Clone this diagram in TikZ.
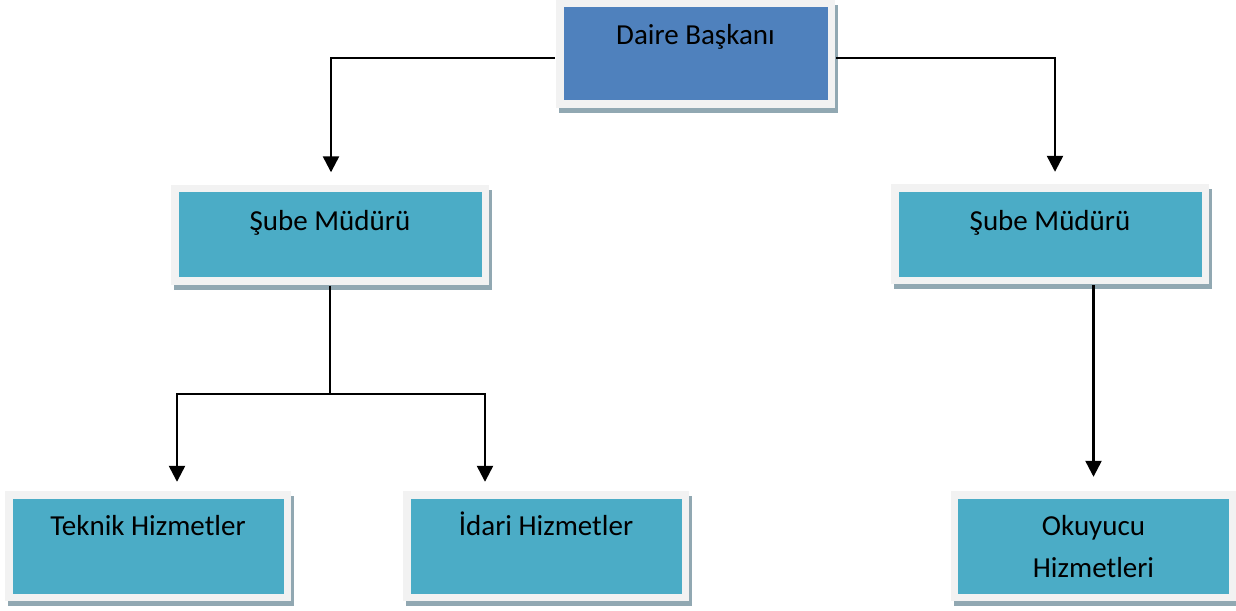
\documentclass[tikz,border=0pt]{standalone}
\usepackage{fontspec}
\setmainfont{Carlito}
\usetikzlibrary{arrows.meta,shadows}

\definecolor{headblue}{RGB}{79,129,189}
\definecolor{unitteal}{RGB}{75,172,198}
\definecolor{framegray}{RGB}{242,242,242}
\definecolor{shadowgray}{RGB}{145,168,178}

\begin{document}
\begin{tikzpicture}[x=0.5pt,y=-0.5pt,>={Triangle[width=8pt,length=8pt]},line width=1.2pt,
  unit box/.style={rectangle,fill=framegray,inner sep=0pt,minimum width=159pt,minimum height=50pt,
    text height=10pt,align=center,font=\fontsize{14.5pt}{21pt}\selectfont,
    drop shadow={shadow xshift=1.5pt,shadow yshift=-2.5pt,fill=shadowgray,opacity=1},
    path picture={\fill[#1] ([shift={(3.75pt,3.75pt)}]path picture bounding box.south west)
      rectangle ([shift={(-3.75pt,-3.75pt)}]path picture bounding box.north east);}}]

  \useasboundingbox (0,0) rectangle (1236,610);

  \node[unit box=headblue,minimum width=139.5pt,minimum height=54pt,text depth=19pt] (head) at (695.5,54) {Daire Başkanı};
  \node[unit box=unitteal,text depth=14pt] (chiefL) at (330,234.5) {Şube Müdürü};
  \node[unit box=unitteal,text depth=14pt] (chiefR) at (1050,234) {Şube Müdürü};
  \node[unit box=unitteal,minimum width=143pt,minimum height=55pt,text depth=21pt] (tech) at (148,546) {Teknik Hizmetler};
  \node[unit box=unitteal,minimum width=143pt,minimum height=55pt,text depth=21pt] (admin) at (546,546) {İdari Hizmetler};
  \node[unit box=unitteal,minimum width=143pt,minimum height=55pt,text height=31pt,text depth=0pt] (reader) at (1093.5,546) {Okuyucu\\Hizmetleri};

  \coordinate (split) at (330,394);

  \draw[->,shorten >=5.5pt] ([yshift=-2pt]head.west) -| ([xshift=0.5pt]chiefL.north);
  \draw[->,shorten >=5.5pt] ([yshift=-2pt]head.east) -| ([xshift=2.5pt]chiefR.north);
  \draw (chiefL.south) -- (split);
  \draw[->,shorten >=4pt] (split) -| ([xshift=14.5pt]tech.north);
  \draw[->,shorten >=4pt] (split) -| ([xshift=-30.5pt]admin.north);
  \draw[->,shorten >=6.5pt] (reader.north |- chiefR.south) -- (reader.north);
\end{tikzpicture}
\end{document}
